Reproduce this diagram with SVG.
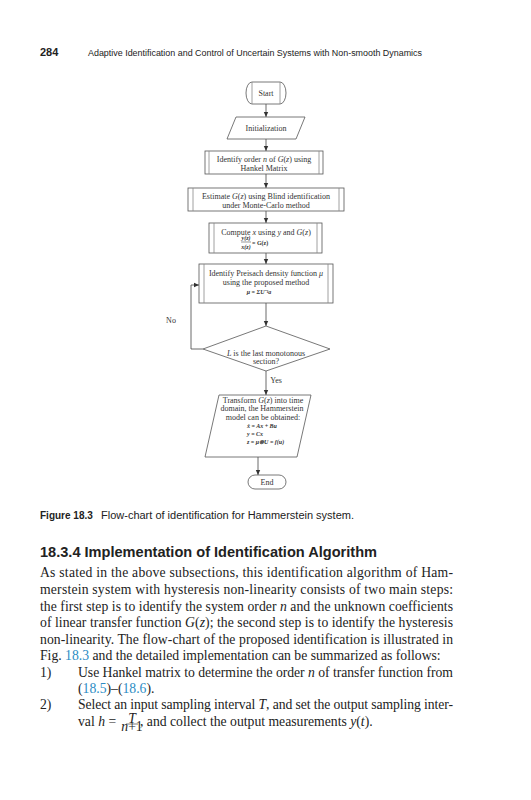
<svg xmlns="http://www.w3.org/2000/svg" width="531" height="800" viewBox="0 0 531 800">
<style>
.hdr{font-family:"Liberation Sans",Arial,sans-serif;fill:#222}
.fc{font-family:"Liberation Serif","Times New Roman",serif;font-size:8px;fill:#333;text-anchor:middle}
.fm{font-family:"Liberation Serif","Times New Roman",serif;font-size:6px;fill:#333;font-style:italic;font-weight:bold}
.shape{fill:#fff;stroke:#555;stroke-width:0.8}
.inner{stroke:#888;stroke-width:0.8;fill:none}
.conn{stroke:#444;stroke-width:0.8;fill:none}
.body{font-family:"Liberation Serif","Times New Roman",serif;font-size:13.7px;fill:#222}
.it{font-style:italic}
.ref{fill:#2b8cc4}
</style>
<defs>
<marker id="arr" markerWidth="6" markerHeight="6" refX="5" refY="3" orient="auto" markerUnits="userSpaceOnUse">
<path d="M0,0.8 L5,3 L0,5.2 Z" fill="#333"/>
</marker>
</defs>
<rect width="531" height="800" fill="#fff"/>

<g id="header">
<text class="hdr" x="40" y="56" font-size="11" font-weight="bold">284</text>
<text class="hdr" x="88" y="56" font-size="9.6" textLength="334" lengthAdjust="spacingAndGlyphs">Adaptive Identification and Control of Uncertain Systems with Non-smooth Dynamics</text>
</g>

<g id="connectors">
<line class="conn" x1="266" y1="104" x2="266" y2="117" marker-end="url(#arr)"/>
<line class="conn" x1="266" y1="139" x2="266" y2="151" marker-end="url(#arr)"/>
<line class="conn" x1="266" y1="174" x2="266" y2="188" marker-end="url(#arr)"/>
<line class="conn" x1="266" y1="211" x2="266" y2="223" marker-end="url(#arr)"/>
<line class="conn" x1="266" y1="253" x2="266" y2="264" marker-end="url(#arr)"/>
<line class="conn" x1="266" y1="303" x2="266" y2="326" marker-end="url(#arr)"/>
<polyline class="conn" points="203,349 191,349 191,285 199,285" marker-end="url(#arr)"/>
<line class="conn" x1="266" y1="371" x2="266" y2="395" marker-end="url(#arr)"/>
<line class="conn" x1="258" y1="457" x2="258" y2="475" marker-end="url(#arr)"/>
<text class="fc" x="171" y="323">No</text>
<text class="fc" x="276" y="383">Yes</text>
</g>

<g id="start">
<path class="shape" d="M252,82 H280 A6,11 0 0 1 280,104 H252 A6,11 0 0 1 252,82 Z"/>
<line class="inner" x1="252" y1="82" x2="252" y2="104"/>
<line class="inner" x1="280" y1="82" x2="280" y2="104"/>
<text class="fc" x="266" y="96">Start</text>
</g>

<g id="init">
<polygon class="shape" points="236,117 305,117 296,139 227,139"/>
<text class="fc" x="266" y="131">Initialization</text>
</g>

<g id="order">
<rect class="shape" x="205" y="151" width="118" height="23"/>
<line class="inner" x1="209" y1="151" x2="209" y2="174"/>
<line class="inner" x1="319" y1="151" x2="319" y2="174"/>
<text class="fc" x="264" y="162">Identify order <tspan class="it">n</tspan> of <tspan class="it">G</tspan>(<tspan class="it">z</tspan>) using</text>
<text class="fc" x="264" y="171">Hankel Matrix</text>
</g>

<g id="estimate">
<rect class="shape" x="188" y="188" width="156" height="23"/>
<line class="inner" x1="193" y1="188" x2="193" y2="211"/>
<line class="inner" x1="339" y1="188" x2="339" y2="211"/>
<text class="fc" x="266" y="198.5">Estimate <tspan class="it">G</tspan>(<tspan class="it">z</tspan>) using Blind identification</text>
<text class="fc" x="266" y="207.5">under Monte-Carlo method</text>
</g>

<g id="compute">
<rect class="shape" x="209" y="223" width="113" height="30"/>
<line class="inner" x1="214" y1="223" x2="214" y2="253"/>
<line class="inner" x1="317" y1="223" x2="317" y2="253"/>
<text class="fc" x="266" y="234.5">Compute <tspan class="it">x</tspan> using <tspan class="it">y</tspan> and <tspan class="it">G</tspan>(<tspan class="it">z</tspan>)</text>
<text class="fm" x="246" y="240" text-anchor="middle">y(z)</text>
<line x1="241" y1="242" x2="251" y2="242" stroke="#333" stroke-width="0.5"/>
<text class="fm" x="246" y="248.5" text-anchor="middle">x(z)</text>
<text class="fm" x="252" y="244.5" style="font-style:normal">= G(z)</text>
</g>

<g id="preisach">
<rect class="shape" x="199" y="264" width="134" height="39"/>
<line class="inner" x1="204" y1="264" x2="204" y2="303"/>
<line class="inner" x1="328" y1="264" x2="328" y2="303"/>
<text class="fc" x="266" y="276">Identify Preisach density function  <tspan class="it">μ</tspan></text>
<text class="fc" x="266" y="285">using the proposed method</text>
<text class="fm" x="259" y="294" text-anchor="middle">μ = ΣU⁻¹a</text>
</g>

<g id="decision">
<polygon class="shape" points="266,326 330,349 266,371 203,349"/>
<text class="fc" x="266" y="355.5"><tspan class="it">L</tspan> is the last monotonous</text>
<text class="fc" x="266" y="363.5">section?</text>
</g>

<g id="transform">
<polygon class="shape" points="219,395 311,395 297,457 205,457"/>
<text class="fc" x="263" y="402.5" font-size="7.6">Transform <tspan class="it">G</tspan>(<tspan class="it">z</tspan>) into time</text>
<text class="fc" x="262" y="411" font-size="7.6">domain, the Hammerstein</text>
<text class="fc" x="263" y="419.5" font-size="7.6">model can be obtained:</text>
<text class="fm" x="247" y="428">ẋ = Ax + Bu</text>
<text class="fm" x="247" y="436">y = Cx</text>
<text class="fm" x="247" y="443.5">z = μ⊗U = f(u)</text>
</g>

<g id="end">
<rect class="shape" x="248" y="475" width="38" height="14" rx="7" ry="7"/>
<text class="fc" x="267" y="485">End</text>
</g>

<g id="caption">
<text class="hdr" x="40" y="519" font-size="10" font-weight="bold">Figure 18.3</text>
<text class="hdr" x="101" y="519" font-size="10" textLength="253" lengthAdjust="spacingAndGlyphs">Flow-chart of identification for Hammerstein system.</text>
</g>

<g id="section">
<text class="hdr" x="40" y="557" font-size="15" font-weight="bold" textLength="337" lengthAdjust="spacingAndGlyphs">18.3.4  Implementation of Identification Algorithm</text>
<text class="body" x="40" y="577" textLength="413" lengthAdjust="spacing">As stated in the above subsections, this identification algorithm of Ham-</text>
<text class="body" x="40" y="594" textLength="413" lengthAdjust="spacing">merstein system with hysteresis non-linearity consists of two main steps:</text>
<text class="body" x="40" y="610.5" textLength="413" lengthAdjust="spacing">the first step is to identify the system order <tspan class="it">n</tspan> and the unknown coefficients</text>
<text class="body" x="40" y="627" textLength="413" lengthAdjust="spacing">of linear transfer function <tspan class="it">G</tspan>(<tspan class="it">z</tspan>); the second step is to identify the hysteresis</text>
<text class="body" x="40" y="643.5" textLength="413" lengthAdjust="spacing">non-linearity. The flow-chart of the proposed identification is illustrated in</text>
<text class="body" x="40" y="660">Fig. <tspan class="ref">18.3</tspan> and the detailed implementation can be summarized as follows:</text>
<text class="body" x="40" y="676.5">1)</text>
<text class="body" x="78" y="676.5" textLength="375" lengthAdjust="spacing">Use Hankel matrix to determine the order <tspan class="it">n</tspan> of transfer function from</text>
<text class="body" x="78" y="693">(<tspan class="ref">18.5</tspan>)–(<tspan class="ref">18.6</tspan>).</text>
<text class="body" x="40" y="709">2)</text>
<text class="body" x="78" y="709" textLength="375" lengthAdjust="spacing">Select an input sampling interval <tspan class="it">T</tspan>, and set the output sampling inter-</text>
<text class="body" x="78" y="726">val <tspan class="it">h</tspan> =</text>
<text class="body" x="132" y="722.5" font-size="7" text-anchor="middle" font-style="italic">T</text>
<line x1="126" y1="724" x2="138" y2="724" stroke="#222" stroke-width="0.6"/>
<text class="body" x="132" y="731" font-size="7" text-anchor="middle"><tspan class="it">n</tspan>+1</text>
<text class="body" x="140" y="726">, and collect the output measurements <tspan class="it">y</tspan>(<tspan class="it">t</tspan>).</text>
</g>
</svg>
